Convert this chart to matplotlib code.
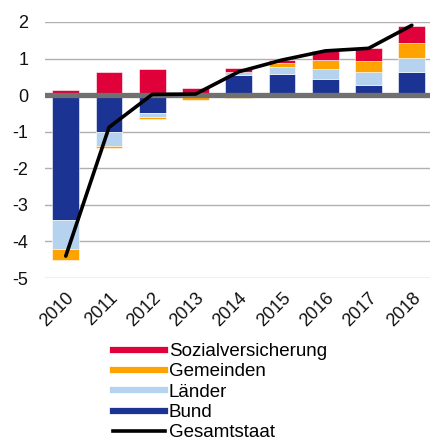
import matplotlib
matplotlib.use("Agg")
import matplotlib.pyplot as plt
from matplotlib.lines import Line2D
import numpy as np

plt.rcParams['font.family'] = ['Liberation Sans', 'DejaVu Sans']

years = ["2010", "2011", "2012", "2013", "2014", "2015", "2016", "2017", "2018"]
bund = [-3.41, -1.00, -0.50, 0.00, 0.56, 0.58, 0.45, 0.28, 0.62]
laender = [-0.80, -0.39, -0.11, 0.00, 0.08, 0.18, 0.27, 0.35, 0.40]
gemeinden = [-0.31, -0.06, -0.05, -0.12, -0.07, 0.12, 0.24, 0.31, 0.41]
sozial = [0.15, 0.62, 0.72, 0.20, 0.10, 0.08, 0.24, 0.34, 0.47]
gesamt = [-4.40, -0.88, 0.02, 0.03, 0.64, 0.96, 1.21, 1.28, 1.91]

c_soz = "#E0003A"
c_gem = "#FFA300"
c_lae = "#B5D3EF"
c_bund = "#1B3493"

fig = plt.figure(figsize=(4.30, 4.44), dpi=100)
ax = fig.add_axes([45/430, 1-278/444, 385/430, (278-22)/444])

x = np.arange(len(years))
w = 0.62
pos_base = np.zeros(len(years))
neg_base = np.zeros(len(years))
for vals, col in [(bund, c_bund), (laender, c_lae), (gemeinden, c_gem), (sozial, c_soz)]:
    v = np.array(vals)
    base = np.where(v >= 0, pos_base, neg_base)
    ax.bar(x, v, w, bottom=base, color=col, edgecolor="white", linewidth=0.4, zorder=2)
    pos_base = pos_base + np.where(v > 0, v, 0)
    neg_base = neg_base + np.where(v < 0, v, 0)

ax.axhline(0, color="#707070", linewidth=3.8, zorder=3)
ax.plot(x, gesamt, color="black", linewidth=2.6, zorder=4, solid_capstyle="round")

ax.set_ylim(-5, 2)
ax.set_xlim(-0.48, 8.42)
ax.set_yticks(range(-5, 3))
ax.set_yticklabels([str(v) for v in range(-5, 3)])
ax.grid(axis="y", color="#B0B0B0", linewidth=1.0, zorder=0)
ax.set_axisbelow(True)
for s in ax.spines.values():
    s.set_visible(False)
ax.tick_params(axis="y", length=0, pad=12, labelsize=13, colors="#111111")
ax.tick_params(axis="x", length=0, pad=8, labelsize=13, colors="#111111")
ax.set_xticks(x)
ax.set_xticklabels(years, rotation=45, ha="right", rotation_mode="anchor")

handles = [
    Line2D([0], [0], color=c_soz, lw=4.5),
    Line2D([0], [0], color=c_gem, lw=4.5),
    Line2D([0], [0], color=c_lae, lw=4.5),
    Line2D([0], [0], color=c_bund, lw=4.5),
    Line2D([0], [0], color="black", lw=2.6),
]
labels = ["Sozialversicherung", "Gemeinden", "Länder", "Bund", "Gesamtstaat"]
fig.legend(handles, labels, loc="upper left", bbox_to_anchor=(113/430, 1-343/444),
           frameon=False, fontsize=13.5, handlelength=2.75, handletextpad=0.22,
           labelspacing=0.17, borderpad=0, borderaxespad=0)

fig.savefig("out.png", dpi=100)
